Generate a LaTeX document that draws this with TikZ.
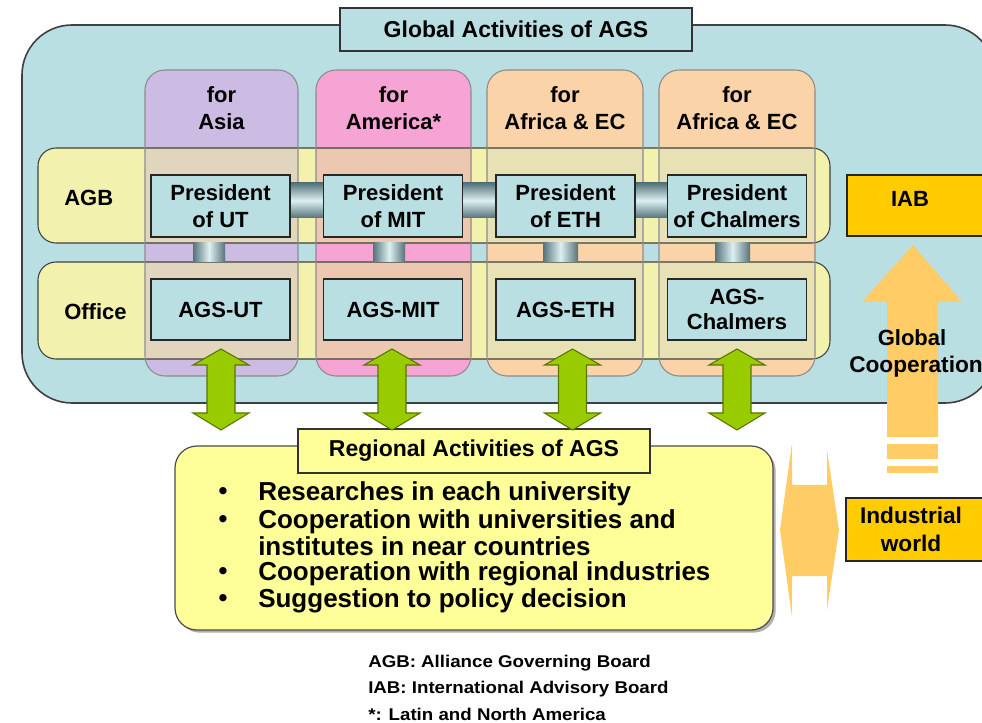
\documentclass[tikz,border=0pt]{standalone}
\usepackage{fontspec}
\setmainfont{Liberation Sans}
\usetikzlibrary{calc,shadows}
\definecolor{bluebg}{HTML}{BADFE3}
\definecolor{colpurple}{HTML}{CCBCE3}
\definecolor{colpink}{HTML}{F6A4D3}
\definecolor{colorange}{HTML}{FAD4A8}
\definecolor{bandyel}{HTML}{F2F1AE}
\definecolor{ovpurple}{HTML}{E2D5BD}
\definecolor{ovpink}{HTML}{EBC8AF}
\definecolor{ovorange}{HTML}{E8E1B6}
\definecolor{cyldark}{HTML}{55737A}
\definecolor{cyllight}{HTML}{DDF0F2}
\definecolor{arrgreen}{HTML}{99CC00}
\definecolor{greenline}{HTML}{5A7500}
\definecolor{orangearr}{HTML}{FFCC66}
\definecolor{gold}{HTML}{FFCC00}
\definecolor{regyellow}{HTML}{FFFF99}
\begin{document}
\begin{tikzpicture}[x=0.75pt,y=-0.75pt,
  font=\bfseries\fontsize{16.5}{20.25}\selectfont,
  tabbox/.style={draw=black!80, line width=0.9pt, inner sep=0pt, outer sep=0pt},
  colbox/.style={inner sep=0pt, outer sep=0pt, rounded corners=15pt, minimum height=229.5pt},
  bandbox/.style={inner sep=0pt, outer sep=0pt, rounded corners=13.5pt, minimum width=594pt, fill=bandyel},
  bandline/.style={draw=black!75, line width=0.8pt, rounded corners=13.5pt},
  colline/.style={draw=black!45, line width=0.8pt, rounded corners=15pt},
  pbox/.style={draw=black!85, line width=0.9pt, fill=bluebg, minimum width=104.25pt, inner sep=0pt, outer sep=0pt, align=center},
  hcyl/.style={top color=cyldark, bottom color=cyldark, middle color=cyllight},
  vcyl/.style={left color=cyldark, right color=cyldark, middle color=cyllight},
  hdr/.style={align=center, font=\bfseries\fontsize{16.5}{20.25}\selectfont},
  regtext/.style={anchor=west, inner sep=0pt, font=\bfseries\fontsize{19.5}{21}\selectfont},
  bul/.style={inner sep=0pt, font=\bfseries\fontsize{19}{20}\selectfont},
  legend/.style={anchor=west, inner sep=0pt, font=\bfseries\fontsize{12.75}{14}\selectfont},
  garrow/.pic={\filldraw[fill=arrgreen, draw=greenline, line width=0.8pt]
     (0,0) -- (28,16) -- (14,16) -- (14,64) -- (28,64) -- (0,81) -- (-28,64)
     -- (-14,64) -- (-14,16) -- (-28,16) -- cycle;}
]
\useasboundingbox (0,0) rectangle (982,723);
\clip (0,0) rectangle (982,723);

% global activities frame
\draw[line width=1.2pt, draw=black!75, fill=bluebg, rounded corners=37.5pt] (22,25) rectangle (995,403);
\node[tabbox, fill=bluebg, minimum width=264pt, minimum height=32.25pt,
  font=\bfseries\fontsize{17.25}{20}\selectfont] (gtitle) at (516,29.5) {Global Activities of AGS};

% columns
\node[colbox, fill=colpurple, minimum width=114.75pt] (c1) at (221.5,223) {};
\node[colbox, fill=colpink,   minimum width=116.25pt] (c2) at (393.5,223) {};
\node[colbox, fill=colorange, minimum width=117pt]    (c3) at (565,223) {};
\node[colbox, fill=colorange, minimum width=117pt]    (c4) at (737,223) {};
\node[hdr] (h1) at (221.5,108.5) {for\\Asia};
\node[hdr] (h2) at (393.5,108.5) {for\\America*};
\node[hdr] (h3) at (565,108.5) {for\\Africa \& EC};
\node[hdr] (h4) at (737,108.5) {for\\Africa \& EC};

% bands
\node[bandbox, minimum height=71.25pt] (agb) at (434,195.5) {};
\node[bandbox, minimum height=72.75pt] (off) at (434,310.5) {};
\foreach \c/\col in {c1/ovpurple, c2/ovpink, c3/ovorange, c4/ovorange}{
  \begin{scope}
    \clip[rounded corners=15pt] (\c.north west) rectangle (\c.south east);
    \fill[\col, rounded corners=13.5pt] (agb.north west) rectangle (agb.south east)
      (off.north west) rectangle (off.south east);
  \end{scope}
}
\draw[bandline] (agb.north west) rectangle (agb.south east);
\draw[bandline] (off.north west) rectangle (off.south east);
\foreach \c in {c1,c2,c3,c4}{
  \draw[colline] (\c.north west) rectangle (\c.south east);
}
\node[anchor=west, inner sep=0pt] (lagb) at (64,198) {AGB};
\node[anchor=west, inner sep=0pt] (loff) at (64,312) {Office};

% horizontal cylinders between presidents
\shade[hcyl] (290,183) rectangle (323,218);
\shade[hcyl] (463,183) rectangle (496,218);
\shade[hcyl] (635,183) rectangle (667,218);

% president boxes
\node[pbox, minimum height=46.5pt] (p1) at (220.5,206) {President\\of UT};
\node[pbox, minimum height=46.5pt] (p2) at (393,206) {President\\of MIT};
\node[pbox, minimum height=46.5pt] (p3) at (565.5,206) {President\\of ETH};
\node[pbox, minimum height=46.5pt] (p4) at (737,206) {President\\of Chalmers};

% office boxes
\node[pbox, minimum height=45.75pt] (o1) at (220.5,309.5) {AGS-UT};
\node[pbox, minimum height=45.75pt] (o2) at (393,309.5) {AGS-MIT};
\node[pbox, minimum height=45.75pt] (o3) at (565.5,309.5) {AGS-ETH};
\node[pbox, minimum height=45.75pt, font=\bfseries\fontsize{16.5}{18.75}\selectfont] (o4) at (737,309.5) {AGS-\\Chalmers};

% vertical cylinders (president -> office)
\shade[vcyl] ($(p1.south)+(-27.5,6)$) rectangle ($(o1.north)+(4.5,-17)$);
\shade[vcyl] ($(p2.south)+(-20,6)$) rectangle ($(o2.north)+(12,-17)$);
\shade[vcyl] ($(p3.south)+(-22.5,6)$) rectangle ($(o3.north)+(12.5,-17)$);
\shade[vcyl] ($(p4.south)+(-22,6)$) rectangle ($(o4.north)+(13,-17)$);

% regional activities
\node[draw=black!70, line width=0.9pt, fill=regyellow, rounded corners=16.5pt,
  minimum width=448.5pt, minimum height=138pt, inner sep=0pt, outer sep=0pt,
  drop shadow={shadow xshift=2pt, shadow yshift=-2pt, fill=black!45, opacity=0.7}]
  (reg) at (474,538) {};
\node[tabbox, fill=regyellow, minimum width=264pt, minimum height=33pt,
  font=\bfseries\fontsize{17.25}{20}\selectfont] (regt) at (474,451) {Regional Activities of AGS};

% green double arrows (office <-> regional)
\pic at ($(o1.south)+(0.5,9)$) {garrow};
\pic at ($(o2.south)+(-1,9)$) {garrow};
\pic at ($(o3.south)+(7,9)$) {garrow};
\pic at ($(o4.south)+(0,9)$) {garrow};

\node[bul] (b1) at (223,494) {•};
\node[bul] (b2) at (223,522) {•};
\node[bul] (b3) at (223,574) {•};
\node[bul] (b4) at (223,601) {•};
\node[regtext] (r1) at (258,494) {Researches in each university};
\node[regtext] (r2) at (258,522) {Cooperation with universities and};
\node[regtext] (r2b) at (258,546) {institutes in near countries};
\node[regtext] (r3) at (258,574) {Cooperation with regional industries};
\node[regtext] (r4) at (258,601) {Suggestion to policy decision};

% IAB and industrial world
\node[draw=black!85, line width=0.9pt, fill=gold, minimum width=111pt, minimum height=45.75pt,
  inner sep=0pt, outer sep=0pt] (iab) at (921,205.5) {};
\node (iabt) at (910,199) {IAB};
\node[draw=black!85, line width=0.9pt, fill=gold, minimum width=111.75pt, minimum height=47.25pt,
  inner sep=0pt, outer sep=0pt] (ind) at (920.5,529.5) {};
\node[align=center, font=\bfseries\fontsize{17}{21}\selectfont] (indt) at (911,529) {Industrial\\world};

% global cooperation arrow (industrial -> IAB)
\coordinate (gtip) at ($(iab.south)+(-8,9)$);
\fill[orangearr] (gtip) -- ++(49,57) -- ++(-24,0) -- ++(0,135) -- ++(-51,0) -- ++(0,-135) -- ++(-25,0) -- cycle;
\fill[orangearr] ($(gtip)+(-26,199)$) rectangle ($(gtip)+(25,214)$);
\fill[orangearr] ($(gtip)+(-26,221)$) rectangle ($(gtip)+(25,228)$);
\node[font=\bfseries\fontsize{16.5}{20}\selectfont] (gc1) at (912,338) {Global};
\node[font=\bfseries\fontsize{17}{20}\selectfont, anchor=west, inner sep=0pt] (gc2) at (849,367) {Cooperation};

% horizontal double arrow (regional <-> industrial)
\coordinate (hl) at ($(reg.east)+(7,-8)$);
\fill[orangearr] (hl) -- ++(12,-87) -- ++(0,42) -- ++(35,0) -- ++(0,-35) -- ++(12,80)
  -- ++(-12,80) -- ++(0,-34) -- ++(-35,0) -- ++(0,41) -- cycle;

% legend
\node[legend] (lg1) at (368,663) {\scalebox{1.1}[1]{AGB: Alliance Governing Board}};
\node[legend] (lg2) at (368,689) {\scalebox{1.1}[1]{IAB: International Advisory Board}};
\node[legend] (lg3) at (368,714) {\scalebox{1.1}[1]{*: Latin and North America}};
\end{tikzpicture}
\end{document}
